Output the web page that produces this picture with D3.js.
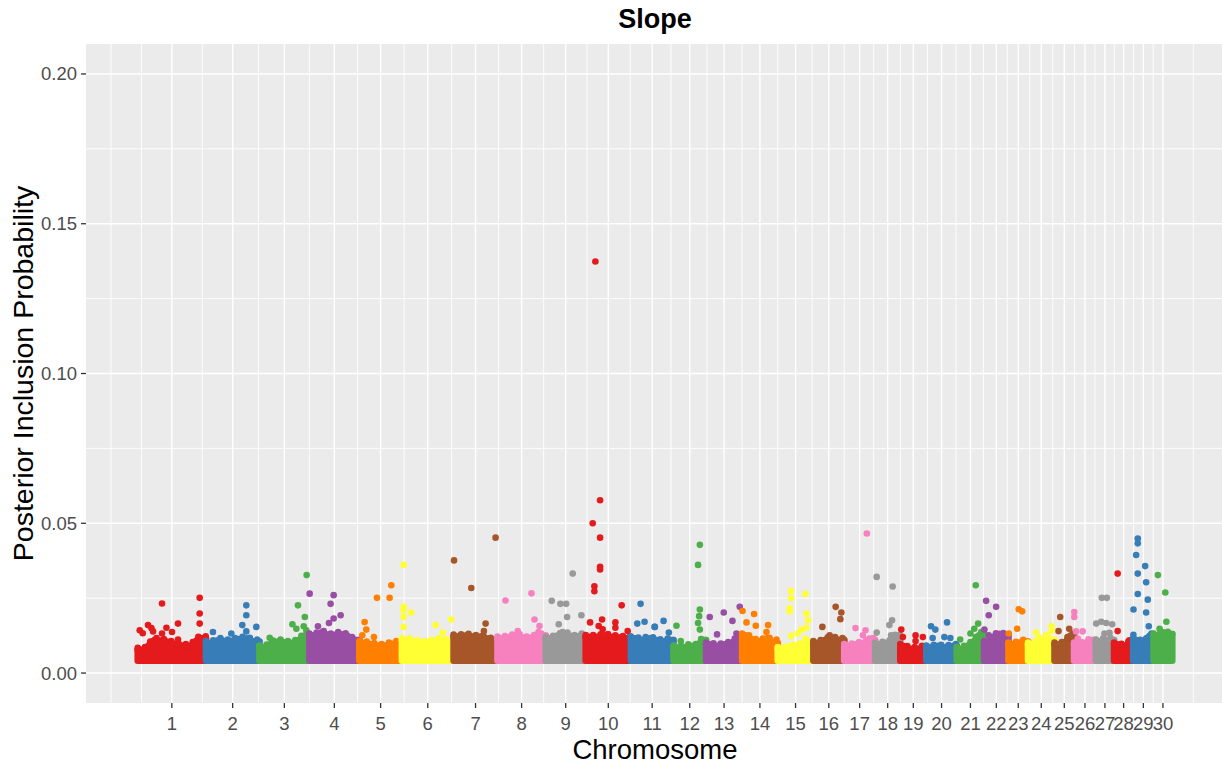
<!DOCTYPE html>
<html>
<head>
<meta charset="utf-8">
<script src="https://cdn.jsdelivr.net/npm/d3@7"></script>
<style>
  body { margin: 0; background: #fff; }
  text { font-family: "Liberation Sans", Arial, sans-serif; }
</style>
</head>
<body>
<script>
// size of svg and plot panel
var w = 1222;
var h = 765;
var panelLeft = 86;
var panelRight = 1224;
var panelTop = 44;
var panelBottom = 703;

// chromosome names (also the x tick labels)
var chromosomes = ["1","2","3","4","5","6","7","8","9","10","11","12","13","14","15",
                   "16","17","18","19","20","21","22","23","24","25","26","27","28","29","30"];

// chromosome lengths in Mb
var chrLength = [157, 123, 115, 115, 98, 119, 101, 111, 92, 104, 98, 75, 83, 82, 82,
                 71, 71, 58, 60, 70, 63, 56, 45, 61, 45, 50, 42, 44, 47, 43];

// y ticks
var yTicks = [0.00, 0.05, 0.10, 0.15, 0.20];
var yMinor = [0.025, 0.075, 0.125, 0.175];

// lowest PIP of the dense band of SNPs
var bandFloor = 0.0041;

// top of the dense band of SNPs, read evenly along each chromosome
var envelope = [
  [0.0078, 0.0110, 0.0105, 0.0094, 0.0090, 0.0116],
  [0.0100, 0.0110, 0.0105, 0.0112, 0.0115, 0.0105],
  [0.0085, 0.0100, 0.0105, 0.0100, 0.0105, 0.0125],
  [0.0125, 0.0135, 0.0125, 0.0130, 0.0125, 0.0110],
  [0.0100, 0.0095, 0.0090, 0.0095, 0.0100],
  [0.0110, 0.0105, 0.0100, 0.0105, 0.0110, 0.0105],
  [0.0122, 0.0125, 0.0120, 0.0118, 0.0110],
  [0.0115, 0.0120, 0.0125, 0.0115, 0.0120, 0.0125],
  [0.0115, 0.0125, 0.0130, 0.0120, 0.0125],
  [0.0120, 0.0120, 0.0125, 0.0120, 0.0118, 0.0115],
  [0.0115, 0.0110, 0.0115, 0.0110, 0.0105, 0.0110],
  [0.0085, 0.0085, 0.0090, 0.0090, 0.0110],
  [0.0095, 0.0090, 0.0095, 0.0100, 0.0115],
  [0.0125, 0.0110, 0.0105, 0.0115, 0.0100],
  [0.0080, 0.0085, 0.0090, 0.0095, 0.0100],
  [0.0100, 0.0110, 0.0115, 0.0110],
  [0.0090, 0.0095, 0.0100, 0.0110],
  [0.0095, 0.0100, 0.0105, 0.0125],
  [0.0090, 0.0080, 0.0080, 0.0085],
  [0.0085, 0.0090, 0.0085, 0.0090],
  [0.0080, 0.0090, 0.0105, 0.0130],
  [0.0100, 0.0120, 0.0130, 0.0125],
  [0.0095, 0.0100, 0.0105],
  [0.0095, 0.0100, 0.0100, 0.0110],
  [0.0095, 0.0100, 0.0125],
  [0.0095, 0.0100, 0.0110],
  [0.0105, 0.0110, 0.0110],
  [0.0095, 0.0090, 0.0100],
  [0.0110, 0.0100, 0.0125],
  [0.0125, 0.0135, 0.0130]
];

// SNPs standing above the band: [chromosome, position (Mb), PIP]
var peaks = [
  [1, 4.6, 0.0143], [1, 11.5, 0.0133], [1, 23.7, 0.0160], [1, 31.5, 0.0150], [1, 35.2, 0.0139],
  [1, 55.9, 0.0232], [1, 66, 0.0151], [1, 55.9, 0.0132], [1, 92.7, 0.0165], [1, 78.9, 0.0137],
  [1, 142.6, 0.0251], [1, 142.6, 0.0199], [1, 142.6, 0.0165], [1, 92.7, 0.0112],
  [2, 16.1, 0.0137], [2, 92.9, 0.0226], [2, 92.9, 0.0193], [2, 83.7, 0.0160], [2, 92.9, 0.0139],
  [2, 115.9, 0.0154], [2, 58.4, 0.0132],
  [3, 108.8, 0.0327], [3, 88.8, 0.0226], [3, 104.6, 0.0187], [3, 76, 0.0163], [3, 85.1, 0.0148],
  [3, 102, 0.0156], [3, 108, 0.0143], [3, 23.7, 0.0118],
  [4, 0.7, 0.0265], [4, 55.9, 0.0260], [4, 48.9, 0.0231], [4, 55.9, 0.0182], [4, 72, 0.0193],
  [4, 45.1, 0.0167], [4, 19.8, 0.0156],
  [5, 40.5, 0.0251], [5, 69.7, 0.0251], [5, 73.6, 0.0293], [5, 12.2, 0.0170], [5, 16.1, 0.0145],
  [5, 33.6, 0.0120], [5, 6.9, 0.0126],
  [6, 3.9, 0.0361], [6, 3.9, 0.0221], [6, 3.9, 0.0210], [6, 3.9, 0.0187], [6, 3.9, 0.0154],
  [6, 21.6, 0.0202], [6, 77.5, 0.0160], [6, 94.3, 0.0135], [6, 113.6, 0.0179],
  [7, 1, 0.0376], [7, 96.6, 0.0452], [7, 40.7, 0.0284], [7, 73.6, 0.0165], [7, 69.7, 0.0140],
  [7, 63.7, 0.0123],
  [8, 18.4, 0.0242], [8, 78.2, 0.0266], [8, 85.1, 0.0179], [8, 96.6, 0.0157], [8, 94.3, 0.0137],
  [8, 46.7, 0.0140],
  [9, 62.1, 0.0332], [9, 13.8, 0.0241], [9, 33.8, 0.0231], [9, 46.9, 0.0231], [9, 49.2, 0.0187],
  [9, 82.1, 0.0193], [9, 29.9, 0.0163], [9, 39.1, 0.0137],
  [10, 22.3, 0.1374], [10, 33.1, 0.0577], [10, 16.1, 0.0500], [10, 33.1, 0.0452], [10, 33.1, 0.0355],
  [10, 33.1, 0.0346], [10, 20, 0.0290], [10, 20, 0.0273], [10, 82.8, 0.0226], [10, 10.1, 0.0169],
  [10, 37.7, 0.0179], [10, 29.9, 0.0157], [10, 39.1, 0.0146], [10, 68.3, 0.0169], [10, 68.3, 0.0151],
  [10, 96.6, 0.0140],
  [11, 22.3, 0.0231], [11, 14.7, 0.0165], [11, 31.5, 0.0171], [11, 55.2, 0.0154], [11, 75.2, 0.0174],
  [11, 54.5, 0.0154], [11, 87.4, 0.0135],
  [12, 60.7, 0.0428], [12, 56.6, 0.0361], [12, 6.9, 0.0158], [12, 60.7, 0.0212], [12, 59.1, 0.0190],
  [12, 56.6, 0.0167], [12, 60.7, 0.0145], [12, 16.8, 0.0107],
  [13, 8.5, 0.0187], [13, 40.7, 0.0202], [13, 60.7, 0.0174], [13, 77.5, 0.0221], [13, 25.3, 0.0129],
  [13, 70, 0.0132],
  [14, 0.9, 0.0207], [14, 27.6, 0.0197], [14, 10.1, 0.0169], [14, 31.5, 0.0158], [14, 59.8, 0.0160],
  [14, 56.1, 0.0137], [14, 79.1, 0.0112],
  [15, 30.6, 0.0274], [15, 30.6, 0.0250], [15, 27.6, 0.0216], [15, 27.6, 0.0206], [15, 63.7, 0.0264],
  [15, 66, 0.0199], [15, 69.7, 0.0176], [15, 66, 0.0151], [15, 54.5, 0.0145], [15, 46.7, 0.0132],
  [15, 30.6, 0.0124], [15, 64.4, 0.0115],
  [16, 51.3, 0.0221], [16, 64.4, 0.0202], [16, 62.1, 0.0180], [16, 20.7, 0.0154], [16, 37.5, 0.0126],
  [17, 52, 0.0466], [17, 26, 0.0150], [17, 49, 0.0143], [17, 42.8, 0.0126], [17, 58.2, 0.0115],
  [18, 3.7, 0.0321], [18, 40.5, 0.0289], [18, 39.1, 0.0176], [18, 32.9, 0.0160], [18, 3.7, 0.0135],
  [18, 36.8, 0.0126],
  [19, 2.3, 0.0145], [19, 6, 0.0120], [19, 35.2, 0.0126], [19, 35.2, 0.0107], [19, 52, 0.0120],
  [20, 47.6, 0.0169], [20, 10.8, 0.0156], [20, 20.7, 0.0145], [20, 14.5, 0.0117], [20, 41.4, 0.0120],
  [20, 55.2, 0.0117],
  [21, 43.7, 0.0293], [21, 49.2, 0.0165], [21, 31.5, 0.0132], [21, 7.8, 0.0112], [21, 40.3, 0.0148],
  [22, 4.6, 0.0241], [22, 10.6, 0.0193], [22, 27.6, 0.0221], [22, 0.7, 0.0145], [22, 10.6, 0.0126],
  [23, 23.7, 0.0213], [23, 31.5, 0.0206], [23, 20, 0.0148], [23, 0.7, 0.0132],
  [24, 18.4, 0.0135], [24, 41.4, 0.0126], [24, 54.3, 0.0156], [24, 54.3, 0.0140], [24, 26, 0.0118],
  [25, 13.1, 0.0187], [25, 9.2, 0.0140], [25, 33.8, 0.0148],
  [26, 0.5, 0.0204], [26, 0.5, 0.0187], [26, 4.6, 0.0139], [26, 19.8, 0.0139], [26, 8.5, 0.0115],
  [27, 13.8, 0.0251], [27, 25.3, 0.0251], [27, 0.9, 0.0165], [27, 12.4, 0.0171], [27, 23.9, 0.0167],
  [27, 37.7, 0.0163], [27, 20, 0.0132], [27, 31.5, 0.0134],
  [28, 8.3, 0.0332], [28, 8.3, 0.0140], [28, 35.2, 0.0109],
  [29, 10.6, 0.0449], [29, 10.6, 0.0433], [29, 6.9, 0.0394], [29, 27.6, 0.0357], [29, 10.6, 0.0332],
  [29, 29.9, 0.0303], [29, 10.6, 0.0264], [29, 33.6, 0.0245], [29, 0.7, 0.0212], [29, 29.9, 0.0202],
  [29, 0.5, 0.0128], [29, 35.9, 0.0156],
  [30, 9.9, 0.0327], [30, 26.9, 0.0269], [30, 29.4, 0.0171], [30, 13.8, 0.0148]
];

// Set1 colours repeated over the chromosomes
var palette = d3.schemeSet1;

// cumulative start of each chromosome
function chrOffsets(lengths) {
  var offsets = [];
  var acc = 0;
  for (var i = 0; i < lengths.length; i++) {
    offsets.push(acc);
    acc += lengths[i];
  }
  return [offsets, acc];
}

window.onload = function() {

  var svg = d3.select("body")
              .append("svg")
              .attr("width", w)
              .attr("height", h);

  svg.append("rect")
     .attr("width", w)
     .attr("height", h)
     .attr("fill", "#ffffff");

  var res = chrOffsets(chrLength);
  var offsets = res[0];
  var total = res[1];

  // ggplot style scales with 5% expansion
  var xScale = d3.scaleLinear()
                 .domain([-0.05 * total, 1.05 * total])
                 .range([panelLeft, panelRight]);
  var yScale = d3.scaleLinear()
                 .domain([-0.01, 0.21])
                 .range([panelBottom, panelTop]);

  // tick at the middle of each chromosome
  var centers = chrLength.map(function(l, i) { return offsets[i] + l / 2; });

  // minor breaks halfway between majors, extended by one step at both ends
  var step = centers[1] - centers[0];
  var ext = [centers[0] - step].concat(centers, [centers[centers.length - 1] + step]);
  var xMinor = [ext[0]];
  for (var i = 0; i < ext.length - 1; i++) {
    xMinor.push((ext[i] + ext[i + 1]) / 2);
  }

  // panel background
  svg.append("rect")
     .attr("x", panelLeft)
     .attr("y", panelTop)
     .attr("width", panelRight - panelLeft)
     .attr("height", panelBottom - panelTop)
     .attr("fill", "#ebebeb");

  svg.append("clipPath")
     .attr("id", "panel")
     .append("rect")
     .attr("x", panelLeft)
     .attr("y", panelTop)
     .attr("width", panelRight - panelLeft)
     .attr("height", panelBottom - panelTop);

  var grid = svg.append("g").attr("clip-path", "url(#panel)");

  // minor grid
  grid.selectAll(".xminor")
      .data(xMinor)
      .enter()
      .append("line")
      .attr("x1", d => xScale(d))
      .attr("x2", d => xScale(d))
      .attr("y1", panelTop)
      .attr("y2", panelBottom)
      .attr("stroke", "#ffffff")
      .attr("stroke-width", 0.9);

  grid.selectAll(".yminor")
      .data(yMinor)
      .enter()
      .append("line")
      .attr("x1", panelLeft)
      .attr("x2", panelRight)
      .attr("y1", d => yScale(d))
      .attr("y2", d => yScale(d))
      .attr("stroke", "#ffffff")
      .attr("stroke-width", 0.9);

  // major grid
  grid.selectAll(".xmajor")
      .data(centers)
      .enter()
      .append("line")
      .attr("x1", d => xScale(d))
      .attr("x2", d => xScale(d))
      .attr("y1", panelTop)
      .attr("y2", panelBottom)
      .attr("stroke", "#ffffff")
      .attr("stroke-width", 1.4);

  grid.selectAll(".ymajor")
      .data(yTicks)
      .enter()
      .append("line")
      .attr("x1", panelLeft)
      .attr("x2", panelRight)
      .attr("y1", d => yScale(d))
      .attr("y2", d => yScale(d))
      .attr("stroke", "#ffffff")
      .attr("stroke-width", 1.4);

  // data, chromosome by chromosome
  var plot = svg.append("g").attr("clip-path", "url(#panel)");
  var area = d3.area()
               .x(d => xScale(d[0]))
               .y0(yScale(bandFloor))
               .y1(d => yScale(d[1]))
               .curve(d3.curveMonotoneX);
  var topLine = d3.line()
                  .x(d => xScale(d[0]))
                  .y(d => yScale(d[1]))
                  .curve(d3.curveMonotoneX);

  chromosomes.forEach(function(name, i) {
    var colour = palette[i % palette.length];
    var env = envelope[i];
    var n = env.length;
    var pts = [[offsets[i], env[0]]];
    env.forEach(function(v, k) {
      pts.push([offsets[i] + (k + 0.5) / n * chrLength[i], v]);
    });
    pts.push([offsets[i] + chrLength[i], env[n - 1]]);

    // dense band of SNPs
    plot.append("path")
        .attr("d", area(pts))
        .attr("fill", colour)
        .attr("stroke", colour)
        .attr("stroke-width", 6.6)
        .attr("stroke-linejoin", "round");

    // dotted edge so the top of the band looks made of points
    plot.append("path")
        .attr("d", topLine(pts))
        .attr("transform", "translate(0,-2)")
        .attr("fill", "none")
        .attr("stroke", colour)
        .attr("stroke-width", 6.6)
        .attr("stroke-linecap", "round")
        .attr("stroke-dasharray", "0 7.5");

    plot.selectAll(".top" + i)
        .data(pts)
        .enter()
        .append("circle")
        .attr("cx", d => xScale(d[0]))
        .attr("cy", d => yScale(d[1]))
        .attr("r", 3.3)
        .attr("fill", colour);

    // SNPs above the band
    plot.selectAll(".peak" + i)
        .data(peaks.filter(p => p[0] == i + 1))
        .enter()
        .append("circle")
        .attr("cx", d => xScale(offsets[i] + d[1]))
        .attr("cy", d => yScale(d[2]))
        .attr("r", 3.3)
        .attr("fill", colour);
  });

  // x axis
  var xAxis = svg.append("g");
  xAxis.selectAll("line")
       .data(centers)
       .enter()
       .append("line")
       .attr("x1", d => xScale(d))
       .attr("x2", d => xScale(d))
       .attr("y1", panelBottom)
       .attr("y2", panelBottom + 5)
       .attr("stroke", "#333333")
       .attr("stroke-width", 1.3);
  xAxis.selectAll("text")
       .data(centers)
       .enter()
       .append("text")
       .attr("x", d => xScale(d))
       .attr("y", 730)
       .attr("text-anchor", "middle")
       .style("font-size", "18.5px")
       .attr("fill", "#4d4d4d")
       .text((d, i) => chromosomes[i]);

  // y axis
  var yAxis = svg.append("g");
  yAxis.selectAll("line")
       .data(yTicks)
       .enter()
       .append("line")
       .attr("x1", panelLeft - 5)
       .attr("x2", panelLeft)
       .attr("y1", d => yScale(d))
       .attr("y2", d => yScale(d))
       .attr("stroke", "#333333")
       .attr("stroke-width", 1.3);
  yAxis.selectAll("text")
       .data(yTicks)
       .enter()
       .append("text")
       .attr("x", panelLeft - 9)
       .attr("y", d => yScale(d))
       .attr("dy", "0.35em")
       .attr("text-anchor", "end")
       .style("font-size", "18.5px")
       .attr("fill", "#4d4d4d")
       .text(d => d3.format(".2f")(d));

  // titles
  svg.append("text")
     .attr("x", (panelLeft + panelRight) / 2)
     .attr("y", 28)
     .attr("text-anchor", "middle")
     .style("font-size", "27px")
     .style("font-weight", "bold")
     .text("Slope");

  svg.append("text")
     .attr("x", (panelLeft + panelRight) / 2)
     .attr("y", 759)
     .attr("text-anchor", "middle")
     .style("font-size", "27.5px")
     .text("Chromosome");

  svg.append("text")
     .attr("transform", "rotate(-90)")
     .attr("x", -(panelTop + panelBottom) / 2)
     .attr("y", 33)
     .attr("text-anchor", "middle")
     .style("font-size", "28.5px")
     .text("Posterior Inclusion Probability");
};
</script>
</body>
</html>
